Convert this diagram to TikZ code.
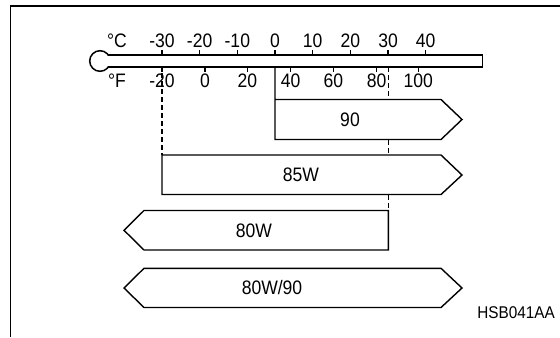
\documentclass[tikz,border=0pt]{standalone}
\usepackage{fontspec}
\setmainfont{Liberation Sans}[FakeStretch=0.9]
\begin{document}
\begin{tikzpicture}[x=1bp,y=-1bp,
  lbl/.style={font=\fontsize{19.5bp}{22bp}\selectfont, inner sep=0pt, anchor=center},
  codelbl/.style={font=\fontsize{17bp}{20bp}\selectfont, inner sep=0pt},
  tubeline/.style={line width=1.5bp},
  boxline/.style={line width=1.4bp, line join=miter},
  dashline/.style={line width=1.1bp, dash pattern=on 5bp off 3bp},
  tickline/.style={line width=1.3bp},
]
\useasboundingbox (0,0) rectangle (560,337);
\fill[white] (0,0) rectangle (560,337);
% frame
\draw[line width=1.7bp] (10.5,337) -- (10.5,6) -- (560,6);

% thermometer
\draw[tubeline] (100,61) circle (10.3bp);
\fill[white] (104,56) rectangle (113,66);
\draw[tubeline] (108.4,55) -- (482.7,55) -- (482.7,67) -- (108.4,67);

% Celsius scale
\node[lbl] (degC) at (117,41) {°C};
\foreach \c [count=\i] in {-30,-20,-10,0,10,20,30,40} {
  \draw[tickline] ({275+3.767*\c},50) -- ({275+3.767*\c},55);
  \node[lbl] (cl\i) at ({275+3.767*\c},41) {\c};
}
% Fahrenheit scale
\node[lbl] (degF) at (117,81) {°F};
\foreach \f/\x [count=\i] in {-20/162,0/205,20/247.3,40/290.7,60/333.3,80/376.7,100/418.3} {
  \draw[tickline] (\x,67) -- (\x,72);
  \node[lbl] (fl\i) at (\x,81) {\f};
}

% boxes
\draw[boxline] (275,67) -- (275,139.5) -- (441,139.5) -- (462,119.5) -- (441,99.5) -- (275,99.5);
\draw[boxline] (162,155) -- (441,155) -- (462,175) -- (441,194.5) -- (162,194.5) -- cycle;
\draw[boxline] (388.3,210.5) -- (144,210.5) -- (124,230.3) -- (144,250) -- (388.3,250) -- cycle;
\draw[boxline] (144,268.3) -- (441,268.3) -- (462,288) -- (441,307.5) -- (144,307.5) -- (124,288) -- cycle;

% dashed guides
\draw[dashline] (388.3,67) -- (388.3,99.5);
\draw[dashline] (388.3,139.5) -- (388.3,155);
\draw[dashline] (388.3,194.5) -- (388.3,210.5);
\draw[dashline] (162,73) -- (162,155);

% labels
\node[lbl] (l90) at (350,120) {90};
\node[lbl] (l85) at (301,175) {85W};
\node[lbl] (l80) at (254,231) {80W};
\node[lbl] (l8090) at (272,288) {80W/90};
\node[codelbl, anchor=east] (code) at (555,313) {HSB041AA};
\end{tikzpicture}
\end{document}
